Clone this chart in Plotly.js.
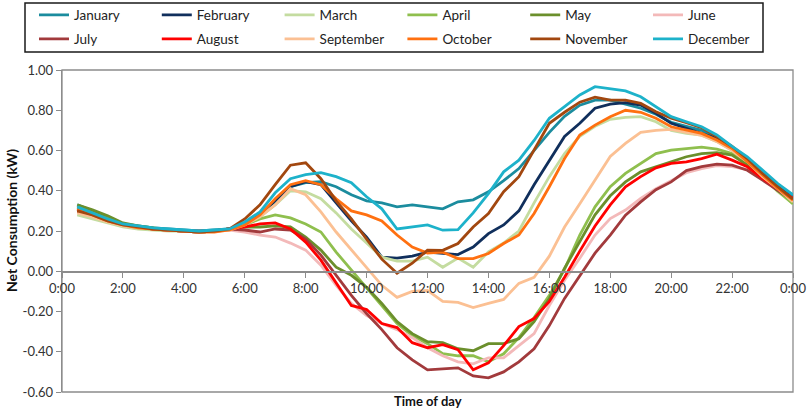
<!DOCTYPE html>
<html>
<head>
<meta charset="utf-8">
<script src="https://cdn.plot.ly/plotly-3.0.1.min.js"></script>
<style>
  html, body { margin: 0; padding: 0; background: #fff; }
  #chart { width: 809px; height: 411px; }
</style>
</head>
<body>
<div id="chart"></div>
<script>
// Time of day in hours (half-hourly readings, 0:30 ... 24:00)
const hours = [0.5,1,1.5,2,2.5,3,3.5,4,4.5,5,5.5,6,6.5,7,7.5,8,8.5,9,9.5,10,10.5,11,11.5,12,
               12.5,13,13.5,14,14.5,15,15.5,16,16.5,17,17.5,18,18.5,19,19.5,20,20.5,21,21.5,22,22.5,23,23.5,24];

const tickHours = [0,2,4,6,8,10,12,14,16,18,20,22,24];
const tickLabels = ["0:00","2:00","4:00","6:00","8:00","10:00","12:00","14:00","16:00","18:00","20:00","22:00","0:00"];
const yTickVals = [-0.6,-0.4,-0.2,0,0.2,0.4,0.6,0.8,1.0];
const yTickLabels = ["-0.60","-0.40","-0.20","0.00","0.20","0.40","0.60","0.80","1.00"];

const months = ["January","February","March","April","May","June","July","August","September","October","November","December"];

const january  = [0.33,0.30,0.26,0.235,0.225,0.215,0.21,0.205,0.20,0.205,0.21,0.24,0.28,0.34,0.42,0.44,0.445,0.42,0.38,0.35,0.34,0.32,0.33,0.32,
                  0.31,0.345,0.355,0.395,0.45,0.51,0.60,0.69,0.77,0.825,0.85,0.85,0.83,0.81,0.78,0.74,0.72,0.70,0.66,0.61,0.56,0.495,0.43,0.375];
const february = [0.31,0.28,0.25,0.23,0.22,0.21,0.205,0.20,0.195,0.20,0.21,0.24,0.28,0.35,0.42,0.445,0.43,0.34,0.25,0.17,0.07,0.065,0.075,0.095,
                  0.088,0.083,0.12,0.187,0.23,0.30,0.43,0.55,0.67,0.735,0.81,0.83,0.838,0.826,0.785,0.735,0.71,0.685,0.66,0.61,0.552,0.486,0.42,0.362];
const march    = [0.28,0.26,0.24,0.22,0.21,0.205,0.20,0.20,0.195,0.20,0.205,0.23,0.27,0.33,0.40,0.395,0.36,0.29,0.21,0.14,0.07,0.05,0.05,0.07,
                  0.02,0.065,0.02,0.096,0.14,0.20,0.34,0.47,0.585,0.67,0.72,0.755,0.765,0.768,0.743,0.70,0.685,0.677,0.644,0.602,0.544,0.47,0.395,0.337];
const april    = [0.32,0.29,0.26,0.235,0.22,0.21,0.205,0.20,0.195,0.20,0.21,0.23,0.26,0.28,0.265,0.235,0.195,0.095,0.005,-0.08,-0.17,-0.26,-0.32,-0.36,
                  -0.41,-0.42,-0.42,-0.45,-0.41,-0.33,-0.23,-0.12,0.01,0.18,0.32,0.42,0.486,0.536,0.585,0.602,0.61,0.617,0.607,0.585,0.527,0.465,0.40,0.335];
const may      = [0.33,0.305,0.275,0.24,0.225,0.215,0.205,0.20,0.195,0.20,0.21,0.22,0.22,0.225,0.22,0.17,0.105,0.02,-0.02,-0.08,-0.16,-0.25,-0.31,-0.35,
                  -0.355,-0.385,-0.395,-0.36,-0.36,-0.335,-0.25,-0.135,0.015,0.15,0.28,0.375,0.444,0.494,0.52,0.544,0.569,0.585,0.589,0.577,0.527,0.465,0.40,0.35];
const june     = [0.30,0.28,0.25,0.23,0.22,0.21,0.205,0.20,0.195,0.20,0.205,0.195,0.18,0.17,0.14,0.105,0.03,-0.07,-0.16,-0.22,-0.26,-0.29,-0.33,-0.38,
                  -0.42,-0.45,-0.46,-0.43,-0.43,-0.37,-0.31,-0.17,-0.045,0.065,0.18,0.262,0.304,0.362,0.41,0.45,0.49,0.51,0.525,0.52,0.505,0.46,0.41,0.36];
const july     = [0.30,0.28,0.25,0.23,0.22,0.21,0.205,0.20,0.20,0.20,0.21,0.205,0.195,0.21,0.205,0.16,0.08,-0.02,-0.12,-0.21,-0.29,-0.38,-0.44,-0.49,
                  -0.485,-0.48,-0.52,-0.53,-0.50,-0.45,-0.385,-0.27,-0.135,-0.02,0.09,0.18,0.279,0.345,0.405,0.444,0.50,0.52,0.532,0.527,0.502,0.453,0.403,0.353];
const august   = [0.30,0.28,0.25,0.23,0.22,0.21,0.205,0.20,0.195,0.20,0.21,0.22,0.235,0.24,0.21,0.145,0.055,-0.06,-0.17,-0.19,-0.26,-0.28,-0.355,-0.38,
                  -0.365,-0.39,-0.49,-0.455,-0.37,-0.275,-0.235,-0.15,-0.03,0.10,0.225,0.33,0.42,0.47,0.514,0.536,0.544,0.56,0.582,0.552,0.519,0.461,0.411,0.362];
const september= [0.29,0.27,0.245,0.225,0.215,0.21,0.205,0.20,0.195,0.20,0.205,0.23,0.27,0.33,0.41,0.38,0.295,0.195,0.105,0.02,-0.07,-0.13,-0.10,-0.095,
                  -0.15,-0.155,-0.18,-0.16,-0.14,-0.06,-0.03,0.075,0.22,0.335,0.45,0.57,0.635,0.69,0.70,0.705,0.69,0.675,0.645,0.60,0.545,0.47,0.41,0.345];
const october  = [0.31,0.28,0.25,0.23,0.215,0.21,0.205,0.20,0.195,0.195,0.205,0.23,0.28,0.36,0.43,0.45,0.43,0.36,0.30,0.28,0.25,0.18,0.12,0.09,
                  0.095,0.063,0.063,0.088,0.138,0.18,0.287,0.42,0.56,0.677,0.726,0.768,0.80,0.79,0.76,0.718,0.70,0.685,0.652,0.61,0.544,0.478,0.411,0.353];
const november = [0.30,0.28,0.25,0.23,0.22,0.21,0.205,0.20,0.195,0.20,0.21,0.26,0.33,0.43,0.527,0.539,0.46,0.35,0.26,0.16,0.06,-0.01,0.04,0.105,
                  0.104,0.138,0.22,0.287,0.395,0.47,0.60,0.735,0.79,0.84,0.865,0.85,0.85,0.834,0.793,0.76,0.738,0.714,0.669,0.62,0.56,0.486,0.42,0.358];
const december = [0.32,0.29,0.26,0.235,0.225,0.215,0.21,0.205,0.20,0.205,0.21,0.245,0.295,0.39,0.46,0.48,0.49,0.47,0.44,0.37,0.31,0.21,0.22,0.23,
                  0.204,0.207,0.29,0.386,0.494,0.552,0.65,0.76,0.818,0.876,0.917,0.906,0.896,0.867,0.818,0.768,0.743,0.718,0.677,0.62,0.569,0.503,0.436,0.38];

const seriesValues = [january,february,march,april,may,june,july,august,september,october,november,december];
const colors = ["#1b8c9e","#102f5c","#c4dca0","#8fbf4e","#6b8f2c","#f3b9b9",
                "#a23a3c","#ff0000","#fbc093","#ff7010","#a2470f","#1db2ca"];

const FONT = "Lato, Carlito, sans-serif";

// pixel helpers for paper coordinates (plot area: x 62..793, y 70..392)
const L = 62, R = 793, T = 70, B = 392;
const px = v => (v - L) / (R - L);
const py = v => (B - v) / (B - T);

const legendKey = i => (i === 0 ? "legend" : "legend" + (i + 1));

const traces = months.map((m, i) => ({
  type: "scatter",
  mode: "lines",
  name: m,
  x: hours,
  y: seriesValues[i],
  line: { color: colors[i], width: 2.8 },
  legend: legendKey(i),
  hoverinfo: "x+y+name"
}));

const layout = {
  width: 809,
  height: 411,
  margin: { l: L, r: 809 - R, t: T, b: 411 - B, pad: 0, autoexpand: false },
  paper_bgcolor: "#fff",
  plot_bgcolor: "#fff",
  font: { family: FONT, size: 13, color: "#333" },
  xaxis: {
    range: [0, 24],
    tickvals: tickHours,
    ticktext: tickLabels,
    anchor: "free",
    position: 0.6 / 1.6,
    showline: true,
    linecolor: "#8c8c8c",
    linewidth: 1.3,
    ticks: "outside",
    ticklen: 5,
    tickcolor: "#8c8c8c",
    showgrid: false,
    zeroline: false,
    automargin: false,
    tickfont: { family: FONT, size: 13, color: "#333" },
    fixedrange: true
  },
  yaxis: {
    range: [-0.6, 1.0],
    tickvals: yTickVals,
    ticktext: yTickLabels,
    showline: true,
    linecolor: "#8c8c8c",
    linewidth: 1.3,
    ticks: "outside",
    ticklen: 5,
    tickcolor: "#8c8c8c",
    showgrid: false,
    zeroline: false,
    automargin: false,
    tickfont: { family: FONT, size: 13, color: "#333" },
    fixedrange: true
  },
  shapes: [
    { type: "rect", xref: "paper", yref: "paper", x0: 0, x1: 1, y0: 0, y1: 1,
      line: { color: "#8c8c8c", width: 1.3 }, layer: "below" },
    { type: "rect", xref: "paper", yref: "paper", x0: px(25), x1: px(763), y0: py(52), y1: py(3),
      line: { color: "#1a1a1a", width: 1.5 }, layer: "above" }
  ],
  annotations: [
    { text: "<b>Time of day</b>", xref: "paper", yref: "paper", x: 0.5, y: py(401),
      xanchor: "center", yanchor: "middle", showarrow: false,
      font: { family: FONT, size: 13, color: "#111" } },
    { text: "<b>Net Consumption (kW)</b>", xref: "paper", yref: "paper", x: px(11), y: py(221),
      xanchor: "center", yanchor: "middle", textangle: -90, showarrow: false,
      font: { family: FONT, size: 14, color: "#111" } }
  ],
  showlegend: true
};

// one legend per month, laid out 6 per row in two rows inside the framed box
months.forEach((m, i) => {
  const col = i % 6, row = Math.floor(i / 6);
  layout[legendKey(i)] = {
    orientation: "h",
    x: px(34 + col * 122.8),
    y: py(row === 0 ? 15 : 39),
    xanchor: "left",
    yanchor: "middle",
    bgcolor: "rgba(0,0,0,0)",
    borderwidth: 0,
    font: { family: FONT, size: 13.5, color: "#222" },
    itemwidth: 30
  };
});

Plotly.newPlot("chart", traces, layout, { displayModeBar: false, staticPlot: true });
</script>
</body>
</html>
